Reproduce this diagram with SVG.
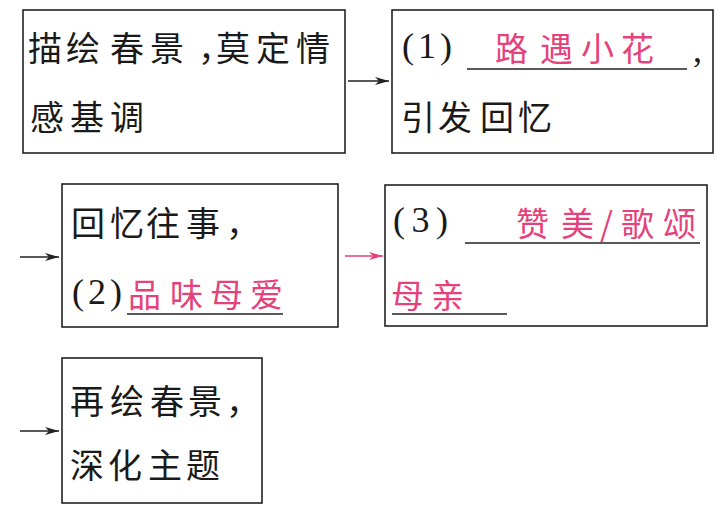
<svg xmlns="http://www.w3.org/2000/svg" width="717" height="511" viewBox="0 0 717 511">
<style>
.box{fill:none;stroke:#222;stroke-width:1.6}
.t{font-family:"Noto Sans CJK SC","Noto Sans",sans-serif;font-size:34px;fill:#1a1a1a}
.n{font-family:"Liberation Serif","Noto Serif",serif;font-size:36px;fill:#1a1a1a}
.p{font-family:"Noto Sans CJK SC","Noto Sans",sans-serif;font-size:33px;fill:#e5427c}
.ul{stroke:#222;stroke-width:1.4}
.ar{stroke:#222;stroke-width:1.5;fill:none}
.arp{stroke:#e5427c;stroke-width:1.5;fill:none}
</style>
<defs>
<marker id="mk" viewBox="0 0 14 8" refX="14" refY="4" markerWidth="14" markerHeight="8" markerUnits="userSpaceOnUse" orient="auto"><path d="M0,0 L14,4 L0,8 L4,4 Z" fill="#222"/></marker>
<marker id="mkp" viewBox="0 0 14 8" refX="14" refY="4" markerWidth="14" markerHeight="8" markerUnits="userSpaceOnUse" orient="auto"><path d="M0,0 L14,4 L0,8 L4,4 Z" fill="#e5427c"/></marker>
</defs>
<rect width="717" height="511" fill="#fff"/>
<g id="connectors">
<line class="ar" x1="348" y1="81" x2="389" y2="81" marker-end="url(#mk)"/>
<line class="ar" x1="20" y1="257" x2="59" y2="257" marker-end="url(#mk)"/>
<line class="arp" x1="345" y1="256" x2="383" y2="256" marker-end="url(#mkp)"/>
<line class="ar" x1="20" y1="431" x2="59" y2="431" marker-end="url(#mk)"/>
</g>
<g id="node1">
<rect class="box" x="23" y="10" width="322" height="143"/>
<text class="t" x="28 66 110 150 198 216 256 296" y="61">描绘春景，莫定情</text>
<text class="t" x="30 70 110" y="130">感基调</text>
</g>
<g id="node2">
<rect class="box" x="392" y="10" width="321" height="143"/>
<text class="n" x="402" y="58" textLength="50" lengthAdjust="spacing">(1)</text>
<line class="ul" x1="467" y1="69" x2="687" y2="69"/>
<text class="p" x="495 540 581 621" y="61">路遇小花</text>
<text class="n" x="693" y="62">,</text>
<text class="t" x="401 438 480 518" y="130">引发回忆</text>
</g>
<g id="node3">
<rect class="box" x="62" y="184" width="276" height="143"/>
<text class="t" x="71 110 146 186 226" y="236">回忆往事，</text>
<text class="n" x="72" y="304" textLength="50" lengthAdjust="spacing">(2)</text>
<text class="p" x="128 170 210 250" y="307">品味母爱</text>
<line class="ul" x1="127" y1="314" x2="283" y2="314"/>
</g>
<g id="node4">
<rect class="box" x="385" y="185" width="322" height="141"/>
<text class="n" x="393" y="232" textLength="55" lengthAdjust="spacing">(3)</text>
<text class="p" x="516 561 600 621 663" y="236">赞美/歌颂</text>
<line class="ul" x1="465" y1="243" x2="700" y2="243"/>
<text class="p" x="391 431" y="308">母亲</text>
<line class="ul" x1="392" y1="314" x2="507" y2="314"/>
</g>
<g id="node5">
<rect class="box" x="62" y="358" width="200" height="145"/>
<text class="t" x="70 110 150 188 226" y="414">再绘春景，</text>
<text class="t" x="70 108 148 186" y="478">深化主题</text>
</g>
</svg>
